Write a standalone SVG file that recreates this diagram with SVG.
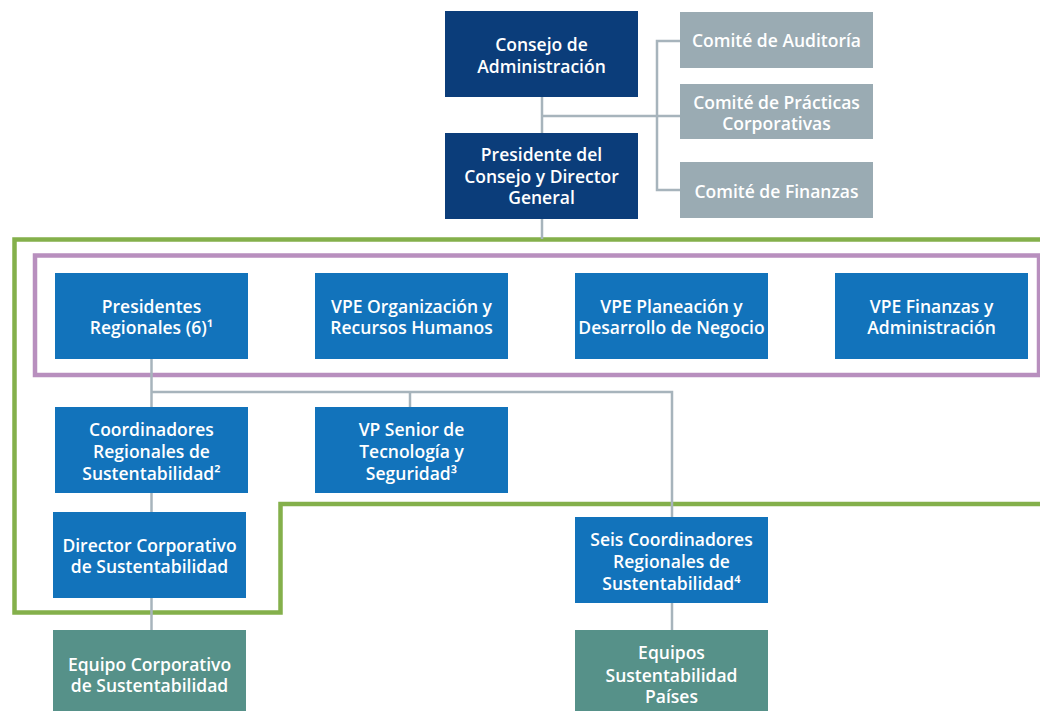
<svg xmlns="http://www.w3.org/2000/svg" width="1040" height="711" viewBox="0 0 1040 711">
<style>
.navy{fill:#0b3d7a}
.blue{fill:#1273bb}
.gray{fill:#9aabb3}
.teal{fill:#569189}
.t{font-family:"Open Sans","Liberation Sans",sans-serif;font-weight:600;font-size:17.5px;fill:#ffffff;text-anchor:middle}
.c{fill:none;stroke:#a7b4bc;stroke-width:2.5}
.green{fill:none;stroke:#84b04b;stroke-width:4.5}
.purple{fill:none;stroke:#b88fbe;stroke-width:4.5}
</style>
<rect width="1040" height="711" fill="#ffffff"/>
<g id="frames">
<path class="green" d="M1042,239.5 H14.5 V612.5 H280.5 V504 H1042"/>
<rect class="purple" x="35" y="255.5" width="1004" height="119.5"/>
</g>
<g id="connectors">
<path class="c" d="M542,97 V239"/>
<path class="c" d="M542,116 H680"/>
<path class="c" d="M680,41 H657 V190 H680"/>
<path class="c" d="M151.5,359 V630"/>
<path class="c" d="M151.5,392 H672 V517"/>
<path class="c" d="M410,392 V407"/>
<path class="c" d="M672,603 V630"/>
</g>
<g id="consejo">
<rect class="navy" x="445" y="11" width="193" height="86"/>
<text class="t" x="541.5" y="51">Consejo de</text>
<text class="t" x="541.5" y="73">Administración</text>
</g>
<g id="presidente">
<rect class="navy" x="445" y="133" width="193" height="86"/>
<text class="t" x="541.5" y="161">Presidente del</text>
<text class="t" x="541.5" y="183">Consejo y Director</text>
<text class="t" x="541.5" y="204">General</text>
</g>
<g id="comite-auditoria">
<rect class="gray" x="680" y="12" width="193" height="56"/>
<text class="t" x="776.5" y="47">Comité de Auditoría</text>
</g>
<g id="comite-practicas">
<rect class="gray" x="680" y="84" width="193" height="55"/>
<text class="t" x="776.5" y="109">Comité de Prácticas</text>
<text class="t" x="776.5" y="130">Corporativas</text>
</g>
<g id="comite-finanzas">
<rect class="gray" x="680" y="162" width="193" height="56"/>
<text class="t" x="776.5" y="198">Comité de Finanzas</text>
</g>
<g id="presidentes-regionales">
<rect class="blue" x="55" y="273" width="193" height="86"/>
<text class="t" x="151.5" y="313">Presidentes</text>
<text class="t" x="151.5" y="334">Regionales (6)¹</text>
</g>
<g id="vpe-organizacion">
<rect class="blue" x="315" y="273" width="193" height="86"/>
<text class="t" x="411.5" y="313">VPE Organización y</text>
<text class="t" x="411.5" y="334">Recursos Humanos</text>
</g>
<g id="vpe-planeacion">
<rect class="blue" x="575" y="273" width="193" height="86"/>
<text class="t" x="671.5" y="313">VPE Planeación y</text>
<text class="t" x="671.5" y="334">Desarrollo de Negocio</text>
</g>
<g id="vpe-finanzas">
<rect class="blue" x="835" y="273" width="193" height="86"/>
<text class="t" x="931.5" y="313">VPE Finanzas y</text>
<text class="t" x="931.5" y="334">Administración</text>
</g>
<g id="coordinadores-regionales">
<rect class="blue" x="55" y="407" width="193" height="86"/>
<text class="t" x="151.5" y="436">Coordinadores</text>
<text class="t" x="151.5" y="458">Regionales de</text>
<text class="t" x="151.5" y="480">Sustentabilidad²</text>
</g>
<g id="vp-senior">
<rect class="blue" x="315" y="407" width="193" height="86"/>
<text class="t" x="411.5" y="436">VP Senior de</text>
<text class="t" x="411.5" y="458">Tecnología y</text>
<text class="t" x="411.5" y="480">Seguridad³</text>
</g>
<g id="director-corporativo">
<rect class="blue" x="53" y="512" width="193" height="86"/>
<text class="t" x="149.5" y="552">Director Corporativo</text>
<text class="t" x="149.5" y="573">de Sustentabilidad</text>
</g>
<g id="seis-coordinadores">
<rect class="blue" x="575" y="517" width="193" height="86"/>
<text class="t" x="671.5" y="546">Seis Coordinadores</text>
<text class="t" x="671.5" y="568">Regionales de</text>
<text class="t" x="671.5" y="590">Sustentabilidad⁴</text>
</g>
<g id="equipo-corporativo">
<rect class="teal" x="53" y="630" width="193" height="81"/>
<text class="t" x="149.5" y="671">Equipo Corporativo</text>
<text class="t" x="149.5" y="692">de Sustentabilidad</text>
</g>
<g id="equipos-paises">
<rect class="teal" x="575" y="630" width="193" height="81"/>
<text class="t" x="671.5" y="659">Equipos</text>
<text class="t" x="671.5" y="682">Sustentabilidad</text>
<text class="t" x="671.5" y="703">Países</text>
</g>
</svg>
